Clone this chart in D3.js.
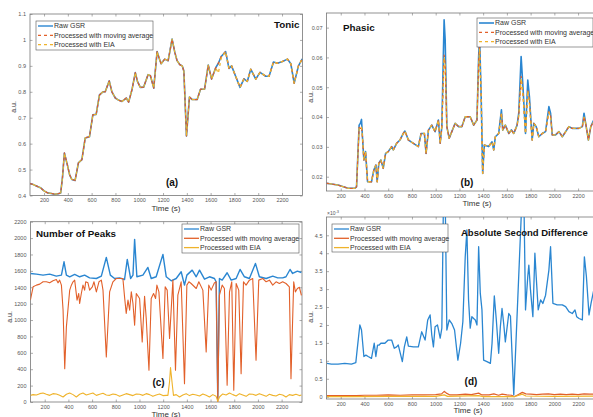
<!DOCTYPE html>
<html><head><meta charset="utf-8">
<script src="https://cdn.jsdelivr.net/npm/d3@7"></script>
<style>
body{margin:0;background:#fff}
svg{display:block;font-family:"Liberation Sans",Arial,Helvetica,sans-serif}
</style>
</head><body>
<svg id="fig" width="593" height="417"></svg>
<script>
// ---- shared ticks / names ----
const xTicks = [200,400,600,800,1000,1200,1400,1600,1800,2000,2200];
const seriesNames = ["Raw GSR","Processed with moving average","Processed with EIA"];
const tonicYTicks = [0.4,0.5,0.6,0.7,0.8,0.9,1,1.1];
const phasicYTicks = [0.02,0.03,0.04,0.05,0.06,0.07];
const peaksYTicks = [0,200,400,600,800,1000,1200,1400,1600,1800,2000,2200];
const asdYTicks = [0,0.5,1,1.5,2,2.5,3,3.5,4,4.5];

// ---- (a) Tonic : [time (s), a.u.] ----
const tonicRaw = [[82,0.446],[110,0.442],[140,0.436],[170,0.43],[200,0.418],[230,0.41],[260,0.408],[290,0.405],[320,0.407],[340,0.41],[355,0.47],[371,0.564],[395,0.52],[415,0.48],[433,0.462],[461,0.458],[489,0.526],[518,0.538],[546,0.622],[582,0.627],[610,0.711],[638,0.713],[666,0.788],[695,0.80],[714,0.80],[748,0.842],[770,0.80],[799,0.776],[825,0.768],[855,0.763],[891,0.776],[911,0.76],[940,0.81],[967,0.874],[985,0.84],[1009,0.817],[1037,0.818],[1074,0.866],[1094,0.862],[1122,0.814],[1150,0.955],[1167,0.93],[1184,0.908],[1214,0.926],[1243,0.92],[1276,1.003],[1300,0.95],[1318,0.92],[1340,0.905],[1361,0.9],[1375,0.88],[1397,0.63],[1422,0.78],[1445,0.77],[1487,0.77],[1515,0.81],[1549,0.81],[1580,0.903],[1608,0.849],[1642,0.892],[1665,0.91],[1689,0.936],[1726,0.955],[1754,0.89],[1776,0.9],[1810,0.86],[1847,0.817],[1880,0.85],[1908,0.84],[1937,0.887],[1979,0.849],[2015,0.875],[2063,0.86],[2091,0.86],[2128,0.915],[2161,0.91],[2204,0.917],[2246,0.926],[2274,0.908],[2302,0.833],[2338,0.90],[2370,0.927]];
const tonicMA = [[82,0.446],[110,0.442],[140,0.436],[170,0.43],[200,0.418],[230,0.41],[260,0.408],[290,0.405],[320,0.407],[340,0.41],[355,0.47],[371,0.564],[395,0.52],[415,0.48],[433,0.462],[461,0.458],[489,0.526],[518,0.538],[546,0.622],[582,0.627],[610,0.711],[638,0.713],[666,0.788],[695,0.80],[714,0.80],[748,0.842],[770,0.80],[799,0.776],[825,0.768],[855,0.763],[891,0.776],[911,0.76],[940,0.81],[967,0.874],[985,0.84],[1009,0.817],[1037,0.818],[1074,0.866],[1094,0.862],[1122,0.814],[1150,0.955],[1167,0.93],[1184,0.908],[1214,0.926],[1243,0.92],[1276,1.003],[1300,0.95],[1318,0.92],[1340,0.905],[1361,0.9],[1375,0.88],[1397,0.63],[1422,0.78],[1445,0.77],[1487,0.77],[1515,0.81],[1549,0.81],[1580,0.903],[1608,0.849],[1642,0.892],[1665,0.91],[1689,0.936],[1726,0.955],[1754,0.89],[1776,0.9],[1810,0.86],[1847,0.817],[1880,0.85],[1908,0.84],[1937,0.887],[1979,0.849],[2015,0.875],[2063,0.86],[2091,0.86],[2128,0.915],[2161,0.91],[2204,0.917],[2246,0.926],[2274,0.908],[2302,0.833],[2338,0.90],[2370,0.927]];
const tonicEIA = [[82,0.446],[110,0.442],[140,0.436],[170,0.43],[200,0.418],[230,0.41],[260,0.408],[290,0.405],[320,0.407],[340,0.41],[355,0.47],[371,0.564],[395,0.52],[415,0.48],[433,0.462],[461,0.458],[489,0.526],[518,0.538],[546,0.622],[582,0.627],[610,0.711],[638,0.713],[666,0.788],[695,0.80],[714,0.80],[748,0.842],[770,0.80],[799,0.776],[825,0.768],[855,0.763],[891,0.776],[911,0.76],[940,0.81],[967,0.874],[985,0.84],[1009,0.817],[1037,0.818],[1074,0.866],[1094,0.862],[1122,0.814],[1150,0.955],[1167,0.93],[1184,0.908],[1214,0.926],[1243,0.92],[1276,1.003],[1300,0.95],[1318,0.92],[1340,0.905],[1361,0.9],[1375,0.88],[1397,0.63],[1422,0.78],[1445,0.77],[1487,0.77],[1515,0.81],[1549,0.81],[1580,0.903],[1608,0.849],[1642,0.892],[1665,0.872],[1689,0.93],[1726,0.955],[1754,0.89],[1776,0.9],[1810,0.86],[1847,0.817],[1880,0.85],[1908,0.84],[1937,0.887],[1979,0.849],[2015,0.875],[2063,0.86],[2091,0.86],[2128,0.915],[2161,0.91],[2204,0.917],[2246,0.926],[2274,0.908],[2302,0.833],[2338,0.90],[2370,0.927]];

// ---- (b) Phasic ----
const phasicRaw = [[79,0.0178],[177,0.0172],[262,0.0161],[318,0.0161],[333,0.0166],[355,0.0373],[366,0.0379],[375,0.0392],[383,0.0334],[395,0.0256],[409,0.0284],[426,0.0183],[459,0.0183],[479,0.0222],[496,0.0239],[507,0.0183],[521,0.0245],[538,0.0256],[558,0.0228],[578,0.0278],[600,0.0284],[629,0.0301],[643,0.029],[671,0.0312],[699,0.0323],[727,0.0345],[741,0.0353],[770,0.0323],[812,0.0312],[854,0.0301],[877,0.0345],[905,0.0345],[919,0.0278],[939,0.0356],[967,0.0373],[995,0.0351],[1023,0.039],[1038,0.0312],[1052,0.0368],[1071,0.0726],[1080,0.0659],[1094,0.0368],[1114,0.0329],[1136,0.0351],[1164,0.0379],[1193,0.0368],[1221,0.0368],[1249,0.0401],[1291,0.0401],[1320,0.0373],[1348,0.039],[1362,0.0603],[1370,0.067],[1384,0.0457],[1396,0.0211],[1410,0.0306],[1446,0.0301],[1475,0.0317],[1489,0.029],[1503,0.0334],[1531,0.0345],[1554,0.0424],[1565,0.0356],[1587,0.0373],[1616,0.0345],[1638,0.0357],[1658,0.0345],[1686,0.0373],[1700,0.0413],[1720,0.0603],[1737,0.0491],[1757,0.0345],[1776,0.0524],[1790,0.0468],[1813,0.0323],[1827,0.0379],[1847,0.0368],[1869,0.0334],[1898,0.0345],[1926,0.0351],[1954,0.0435],[1968,0.0413],[1982,0.034],[2010,0.034],[2039,0.0351],[2067,0.0334],[2123,0.0368],[2151,0.0362],[2208,0.0362],[2236,0.0368],[2250,0.0413],[2264,0.0379],[2287,0.0323],[2307,0.0368],[2332,0.039],[2367,0.0365]];
const phasicMA = [[79,0.0178],[177,0.0172],[262,0.0161],[318,0.0161],[333,0.0166],[355,0.0365],[366,0.0362],[375,0.0368],[383,0.0334],[395,0.0256],[409,0.0284],[426,0.0183],[459,0.0183],[479,0.0222],[496,0.0239],[507,0.0183],[521,0.0245],[538,0.0256],[558,0.0228],[578,0.0278],[600,0.0284],[629,0.0301],[643,0.029],[671,0.0312],[699,0.0323],[727,0.0345],[741,0.0353],[770,0.0323],[812,0.0312],[854,0.0301],[877,0.0345],[905,0.0345],[919,0.0278],[939,0.0356],[967,0.0373],[995,0.0351],[1023,0.039],[1038,0.0312],[1052,0.0368],[1071,0.0608],[1080,0.058],[1094,0.0368],[1114,0.0329],[1136,0.0351],[1164,0.0379],[1193,0.0368],[1221,0.0368],[1249,0.0401],[1291,0.0401],[1320,0.0373],[1348,0.039],[1362,0.058],[1370,0.0645],[1384,0.0457],[1396,0.0211],[1410,0.0306],[1446,0.0301],[1475,0.0317],[1489,0.029],[1503,0.0334],[1531,0.0345],[1554,0.0415],[1565,0.0356],[1587,0.0373],[1616,0.0345],[1638,0.0357],[1658,0.0345],[1686,0.0373],[1700,0.0405],[1720,0.0536],[1737,0.047],[1757,0.0345],[1776,0.049],[1790,0.045],[1813,0.0323],[1827,0.0379],[1847,0.0368],[1869,0.0334],[1898,0.0345],[1926,0.0351],[1954,0.0418],[1968,0.0405],[1982,0.034],[2010,0.034],[2039,0.0351],[2067,0.0334],[2123,0.0368],[2151,0.0362],[2208,0.0362],[2236,0.0368],[2250,0.0402],[2264,0.0379],[2287,0.0323],[2307,0.0368],[2332,0.0385],[2367,0.0365]];
const phasicEIA = [[79,0.0178],[177,0.0172],[262,0.0161],[318,0.0161],[333,0.0166],[355,0.0362],[366,0.036],[375,0.0366],[383,0.0334],[395,0.0256],[409,0.0284],[426,0.0183],[459,0.0183],[479,0.0222],[496,0.0239],[507,0.0183],[521,0.0245],[538,0.0256],[558,0.0228],[578,0.0278],[600,0.0284],[629,0.0301],[643,0.029],[671,0.0312],[699,0.0323],[727,0.0345],[741,0.0353],[770,0.0323],[812,0.0312],[854,0.0301],[877,0.0345],[905,0.0345],[919,0.0278],[939,0.0356],[967,0.0373],[995,0.0351],[1023,0.039],[1038,0.0312],[1052,0.0368],[1071,0.0600],[1080,0.0575],[1094,0.0368],[1114,0.0329],[1136,0.0351],[1164,0.0379],[1193,0.0368],[1221,0.0368],[1249,0.0401],[1291,0.0401],[1320,0.0373],[1348,0.039],[1362,0.0575],[1370,0.063],[1384,0.0457],[1396,0.0211],[1410,0.0306],[1446,0.0301],[1475,0.0317],[1489,0.029],[1503,0.0334],[1531,0.0345],[1554,0.0412],[1565,0.0356],[1587,0.0373],[1616,0.0345],[1638,0.0357],[1658,0.0345],[1686,0.0373],[1700,0.0403],[1720,0.053],[1737,0.0468],[1757,0.0345],[1776,0.0488],[1790,0.0448],[1813,0.0323],[1827,0.0379],[1847,0.0368],[1869,0.0334],[1898,0.0345],[1926,0.0351],[1954,0.0416],[1968,0.0403],[1982,0.034],[2010,0.034],[2039,0.0351],[2067,0.0334],[2123,0.0368],[2151,0.0362],[2208,0.0362],[2236,0.0368],[2250,0.04],[2264,0.0379],[2287,0.0323],[2307,0.0368],[2332,0.0384],[2367,0.0365]];

// ---- (c) Number of Peaks ----
const peaksRaw = [[79,1568],[130,1560],[186,1548],[242,1560],[298,1536],[341,1548],[363,1711],[383,1548],[411,1528],[453,1556],[495,1528],[537,1548],[579,1515],[636,1507],[678,1536],[720,1764],[754,1548],[790,1507],[832,1515],[874,1495],[897,1740],[925,1507],[945,1548],[959,1984],[978,1528],[1029,1548],[1071,1642],[1099,1507],[1141,1528],[1198,1801],[1226,1528],[1268,1479],[1310,1507],[1352,1589],[1380,1426],[1400,1548],[1445,1609],[1479,1528],[1507,1609],[1549,1499],[1591,1528],[1633,1507],[1647,1467],[1661,28],[1675,1507],[1698,1487],[1740,1577],[1774,1487],[1816,1507],[1849,1617],[1886,1528],[1928,1507],[1979,1691],[2012,1528],[2069,1507],[2125,1536],[2167,1515],[2209,1515],[2237,1528],[2271,1617],[2293,1568],[2333,1597],[2367,1580]];
const peaksMA = [[79,1243],[102,1405],[130,1426],[158,1438],[186,1467],[214,1467],[242,1454],[270,1479],[298,1495],[312,1454],[326,1487],[341,1426],[355,1120],[369,407],[383,917],[411,1365],[425,1426],[439,1467],[453,1487],[473,1243],[487,1324],[495,1202],[509,1324],[523,1426],[537,1365],[546,1467],[565,1454],[579,1365],[602,1405],[616,1467],[636,1344],[658,1467],[678,1487],[692,1365],[720,550],[748,1344],[776,1467],[804,1507],[832,1507],[860,1507],[874,1283],[888,1080],[903,1243],[917,1120],[931,1344],[945,1202],[959,937],[973,1324],[1001,1263],[1023,733],[1043,1291],[1057,1018],[1080,387],[1099,1263],[1119,1324],[1136,1263],[1147,1426],[1164,1344],[1198,530],[1217,1405],[1234,1365],[1254,774],[1282,1487],[1304,387],[1324,1304],[1352,1467],[1380,224],[1400,1426],[1417,1467],[1436,1446],[1479,1385],[1501,1467],[1535,1365],[1563,611],[1585,1426],[1605,1365],[1633,1454],[1647,1467],[1661,0],[1675,1304],[1698,1426],[1717,1385],[1740,204],[1760,1344],[1779,1467],[1796,143],[1816,1446],[1838,1365],[1858,346],[1878,1467],[1900,1426],[1928,1487],[1956,1507],[1984,509],[2007,1487],[2041,1507],[2069,1467],[2097,1487],[2125,1426],[2153,1467],[2181,1446],[2209,1467],[2237,1446],[2265,1405],[2279,285],[2302,1467],[2316,1344],[2333,1385],[2350,1400],[2367,1300]];
const peaksEIA = [[79,81],[102,90],[130,86],[158,102],[186,110],[214,94],[242,81],[270,102],[298,98],[326,81],[355,61],[383,94],[411,110],[439,90],[467,61],[495,94],[523,110],[551,86],[579,98],[607,110],[636,81],[664,94],[692,106],[720,86],[748,81],[776,98],[804,90],[832,69],[860,86],[888,102],[917,90],[945,78],[973,98],[1001,94],[1029,81],[1057,102],[1085,90],[1113,69],[1141,86],[1169,98],[1198,78],[1226,81],[1240,81],[1254,250],[1262,420],[1276,226],[1287,81],[1310,90],[1338,61],[1366,86],[1394,102],[1422,78],[1450,94],[1479,86],[1507,73],[1535,98],[1563,81],[1591,61],[1619,90],[1647,69],[1661,8],[1675,61],[1703,98],[1731,86],[1760,110],[1788,90],[1816,73],[1844,102],[1872,86],[1900,69],[1928,98],[1956,94],[1984,81],[2012,102],[2041,86],[2069,69],[2097,94],[2125,81],[2153,73],[2181,94],[2209,86],[2237,61],[2265,90],[2293,81],[2321,94],[2350,78],[2367,86]];

// ---- (d) Absolute Second Difference (x 10^-3) ----
const asdRaw = [[84,0.93],[121,0.91],[177,0.91],[234,0.93],[290,0.91],[327,0.95],[338,1.30],[361,2.0],[375,1.86],[395,1.12],[412,1.16],[431,1.12],[459,1.07],[482,1.49],[496,1.12],[510,1.44],[524,1.44],[538,1.49],[572,1.49],[600,1.58],[629,1.58],[651,1.35],[671,1.39],[685,1.44],[702,1.21],[719,0.98],[736,1.39],[756,1.67],[770,1.41],[812,1.39],[854,1.39],[882,1.81],[911,1.58],[933,2.14],[953,2.28],[967,1.72],[981,1.39],[995,1.95],[1015,2.0],[1038,1.63],[1052,1.91],[1066,5.6],[1080,5.6],[1094,1.86],[1114,2.14],[1136,2.04],[1159,1.86],[1187,1.02],[1210,1.49],[1229,2.09],[1249,3.90],[1263,4.65],[1277,2.70],[1291,1.91],[1305,2.23],[1320,2.18],[1334,2.14],[1348,2.0],[1362,4.18],[1376,2.88],[1390,2.42],[1404,1.02],[1432,0.98],[1461,0.93],[1475,1.49],[1494,2.81],[1511,2.14],[1531,1.21],[1545,1.95],[1559,2.46],[1573,2.04],[1587,1.53],[1616,2.32],[1630,2.25],[1658,0.05],[1728,5.6],[1743,5.6],[1757,2.42],[1776,3.35],[1785,3.67],[1799,2.97],[1819,2.23],[1836,4.0],[1847,3.35],[1864,2.42],[1884,2.70],[1903,2.60],[1926,2.83],[1954,3.53],[1968,4.18],[1988,2.60],[2024,2.56],[2067,2.56],[2095,2.51],[2123,2.37],[2151,2.32],[2174,2.42],[2188,2.23],[2208,2.18],[2236,2.14],[2253,3.90],[2270,3.35],[2292,2.28],[2309,2.60],[2332,2.97],[2367,3.0]];
const asdMA = [[84,0.03],[200,0.03],[330,0.03],[400,0.04],[500,0.04],[600,0.05],[700,0.04],[800,0.05],[900,0.05],[1000,0.06],[1050,0.08],[1072,0.15],[1090,0.1],[1120,0.05],[1180,0.05],[1250,0.07],[1300,0.06],[1362,0.1],[1390,0.05],[1450,0.05],[1490,0.08],[1530,0.04],[1560,0.07],[1600,0.05],[1640,0.04],[1661,0.0],[1690,0.05],[1730,0.12],[1760,0.08],[1800,0.07],[1850,0.06],[1900,0.07],[1950,0.08],[2000,0.06],[2050,0.07],[2100,0.06],[2150,0.07],[2200,0.06],[2250,0.08],[2300,0.07],[2367,0.08]];
const asdEIA = [[84,0.0],[300,0.0],[600,0.01],[1000,0.01],[1072,0.05],[1100,0.01],[1362,0.03],[1400,0.0],[1661,0.0],[1730,0.07],[1760,0.02],[2000,0.01],[2367,0.02]];

const COL = {raw:"#2a86d1", ma:"#e2602a", eia:"#efb32b"};
const AXIS = "#777";
const TXT = "#333";

const svg = d3.select("#fig");
const fmtX = d3.format("d");
const fmtPlain = d => String(d);

function panel(p, i) {
  const x = d3.scaleLinear().domain(p.xDomain).range([p.L, p.R]);
  const y = d3.scaleLinear().domain(p.yDomain).range([p.B, p.T]);
  const g = svg.append("g");

  // clip region for the plotted lines
  const cid = "clip" + i;
  svg.append("clipPath").attr("id", cid).append("rect")
    .attr("x", p.L).attr("y", p.T).attr("width", p.R - p.L).attr("height", p.B - p.T);

  const tick = 2.5;
  const ax = (gen, tx, ty, labels) => {
    const a = g.append("g").attr("transform", `translate(${tx},${ty})`).call(gen);
    a.select(".domain").remove();
    a.selectAll("line").attr("stroke", AXIS).attr("stroke-width", 0.6);
    a.selectAll("text").attr("fill", "#555").style("font-size", "5.5px");
    if (!labels) a.selectAll("text").remove();
    return a;
  };
  ax(d3.axisBottom(x).tickValues(xTicks).tickFormat(fmtX).tickSizeInner(-tick).tickSizeOuter(0).tickPadding(3), 0, p.B, true);
  ax(d3.axisTop(x).tickValues(xTicks).tickSizeInner(-tick).tickSizeOuter(0), 0, p.T, false);
  ax(d3.axisLeft(y).tickValues(p.yTicks).tickSizeInner(-tick).tickSizeOuter(0).tickPadding(4).tickFormat(p.yFmt), p.L, 0, true);
  ax(d3.axisRight(y).tickValues(p.yTicks).tickSizeInner(-tick).tickSizeOuter(0), p.R, 0, false);

  g.append("rect").attr("x", p.L).attr("y", p.T).attr("width", p.R - p.L).attr("height", p.B - p.T)
    .attr("fill", "none").attr("stroke", AXIS).attr("stroke-width", 0.8);

  const line = d3.line().x(d => x(d[0])).y(d => y(d[1]));
  const lines = g.append("g").attr("clip-path", `url(#${cid})`);
  p.series.forEach(s => {
    lines.append("path").datum(s.data).attr("d", line)
      .attr("fill", "none").attr("stroke", s.color).attr("stroke-width", s.w)
      .attr("stroke-linejoin", "round")
      .attr("stroke-dasharray", s.dash || null)
      .attr("stroke-dashoffset", s.off || 0);
  });

  // title and panel tag
  g.append("text").attr("x", p.title[1]).attr("y", p.title[2]).text(p.title[0])
    .attr("font-weight", "bold").attr("font-size", p.title[3]).attr("fill", "#111");
  g.append("text").attr("x", p.tag[1]).attr("y", p.tag[2]).text(p.tag[0])
    .attr("text-anchor", "middle").attr("font-weight", "bold").attr("font-size", 10).attr("fill", "#111");

  // axis titles
  g.append("text").attr("x", p.xl[0]).attr("y", p.xl[1]).text("Time (s)")
    .attr("text-anchor", "middle").attr("font-size", 8).attr("fill", TXT);
  g.append("text").attr("transform", `translate(${p.yl[0]},${p.yl[1]}) rotate(-90)`).text("a.u.")
    .attr("text-anchor", "middle").attr("font-size", 7).attr("fill", TXT);

  // legend
  const lg = p.legend;
  g.append("rect").attr("x", lg.x).attr("y", lg.y).attr("width", lg.w).attr("height", lg.h)
    .attr("fill", "#fff").attr("stroke", "#555").attr("stroke-width", 0.6);
  p.series.forEach((s, k) => {
    const cy = lg.y + 5 + k * 9.3;
    g.append("line").attr("x1", lg.x + 2).attr("x2", lg.x + 17).attr("y1", cy).attr("y2", cy)
      .attr("stroke", s.color).attr("stroke-width", s.lw || 1.3)
      .attr("stroke-dasharray", s.dash || null);
    g.append("text").attr("x", lg.x + 18).attr("y", cy + 2.4).text(seriesNames[k])
      .attr("font-size", 7).attr("fill", TXT);
  });
  return {x, y, g};
}

panel({
  L: 30, R: 302.5, T: 14, B: 195.5, xDomain: [82, 2372], yDomain: [0.4, 1.1],
  yTicks: tonicYTicks, yFmt: fmtPlain,
  series: [
    {data: tonicRaw, color: COL.raw, w: 1.6, lw: 1.4},
    {data: tonicMA, color: COL.ma, w: 1.3, dash: "3,3", lw: 1.2},
    {data: tonicEIA, color: COL.eia, w: 1.3, dash: "3,3", off: 3, lw: 1.2}
  ],
  title: ["Tonic", 274, 28, 9.8], tag: ["(a)", 172, 186],
  xl: [166, 211], yl: [16, 107],
  legend: {x: 36, y: 21, w: 117, h: 29}
}, 0);

panel({
  L: 326.5, R: 598.5, T: 13, B: 191, xDomain: [80, 2372], yDomain: [0.0152, 0.0749],
  yTicks: phasicYTicks, yFmt: fmtPlain,
  series: [
    {data: phasicRaw, color: COL.raw, w: 1.6, lw: 1.6},
    {data: phasicMA, color: COL.ma, w: 1.3, dash: "3,3", lw: 1.2},
    {data: phasicEIA, color: COL.eia, w: 1.3, dash: "3,3", off: 3, lw: 1.2}
  ],
  title: ["Phasic", 343, 31, 9.8], tag: ["(b)", 467, 186],
  xl: [477, 206], yl: [313, 97],
  legend: {x: 477, y: 18, w: 116, h: 29}
}, 1);

panel({
  L: 30.5, R: 302, T: 221.7, B: 402, xDomain: [80, 2372], yDomain: [0, 2200],
  yTicks: peaksYTicks, yFmt: fmtPlain,
  series: [
    {data: peaksRaw, color: COL.raw, w: 1.4},
    {data: peaksMA, color: COL.ma, w: 1.1},
    {data: peaksEIA, color: COL.eia, w: 1.1}
  ],
  title: ["Number of Peaks", 36, 237, 9.8], tag: ["(c)", 158.5, 386],
  xl: [166, 416.5], yl: [12, 317],
  legend: {x: 182, y: 224, w: 117, h: 29}
}, 2);

const d = panel({
  L: 326.5, R: 598.5, T: 217, B: 399, xDomain: [80, 2372], yDomain: [-0.064, 5.01],
  yTicks: asdYTicks, yFmt: fmtPlain,
  series: [
    {data: asdRaw, color: COL.raw, w: 1.3},
    {data: asdMA, color: COL.ma, w: 1.2},
    {data: asdEIA, color: COL.eia, w: 1.2}
  ],
  title: ["Absolute Second Difference", 461, 236, 9.5], tag: ["(d)", 471, 385],
  xl: [468, 413], yl: [313, 317],
  legend: {x: 332, y: 224, w: 116, h: 28}
}, 3);

// exponent marker of the (d) y axis
const ex = d.g.append("text").attr("x", 327).attr("y", 215).attr("font-size", 5).attr("fill", "#555");
ex.append("tspan").text("\u00d710");
ex.append("tspan").attr("dy", -2).attr("font-size", 4).text("-3");
</script>
</body></html>
